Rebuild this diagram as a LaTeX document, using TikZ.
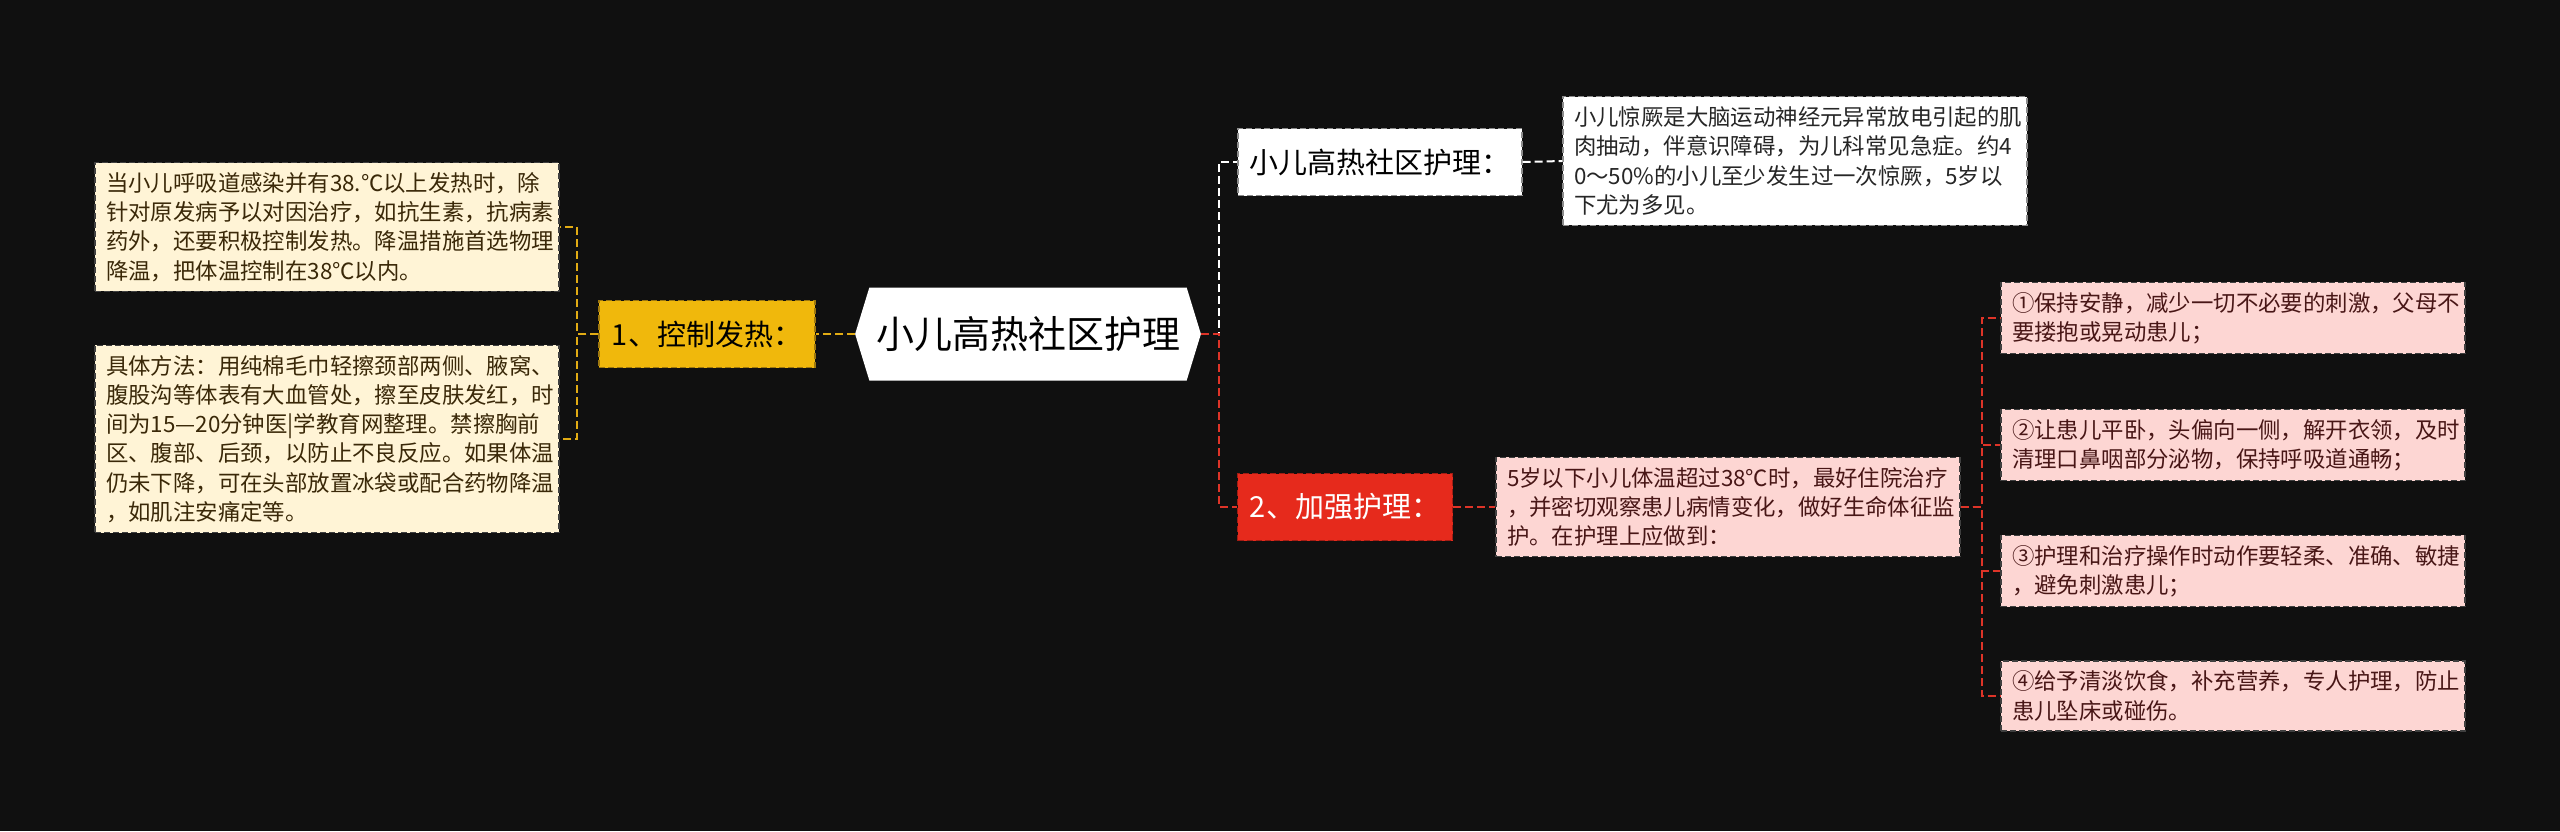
\documentclass[tikz,border=0pt]{standalone}
\usepackage{fontspec}
\setmainfont{Noto Sans CJK SC}
\usetikzlibrary{shapes}
\definecolor{bg}{RGB}{16,16,16}
\definecolor{hl_yellow}{RGB}{240,184,12}
\definecolor{hl_yline}{RGB}{226,172,20}
\definecolor{hl_cream}{RGB}{255,244,214}
\definecolor{hl_red}{RGB}{230,42,28}
\definecolor{hl_rline}{RGB}{222,52,40}
\definecolor{hl_pink}{RGB}{253,214,211}
\definecolor{txt_brown}{RGB}{58,40,8}
\definecolor{txt_maroon}{RGB}{72,22,22}
\tikzstyle{root}=[signal,signal to=west and east,signal pointer angle=146,
  fill=white,draw=none,minimum width=171pt,minimum height=46.5pt,
  font=\fontsize{19}{23}\selectfont]
\tikzstyle{topic}=[rectangle,line width=0.6pt,dash pattern=on 3pt off 1.5pt,
  minimum height=33.5pt,inner sep=3pt,font=\fontsize{14.5}{17}\selectfont]
\tikzstyle{note}=[rectangle,line width=0.6pt,dash pattern=on 3pt off 1.5pt,
  inner xsep=5.5pt,inner ysep=5pt,text width=221pt,align=left,
  font=\fontsize{11.2}{14.6}\selectfont]
\tikzstyle{yl}=[draw=hl_yline,line width=1pt,dash pattern=on 4pt off 2pt]
\tikzstyle{wl}=[draw=white,line width=1pt,dash pattern=on 4pt off 2pt]
\tikzstyle{rl}=[draw=hl_rline,line width=1pt,dash pattern=on 4pt off 2pt]

\begin{document}
\begin{tikzpicture}[x=0.5pt,y=-0.5pt]
    \fill[bg] (0,0) rectangle (2560,831);
    \useasboundingbox (0,0) rectangle (2560,831);
    % centre
    \node [style=root] (root) at (1028,334) {小儿高热社区护理};
    % left branch
    \node [style=topic,fill=hl_yellow,draw=hl_yline!70!black,minimum width=108pt] (c1) at (707,334) {1、控制发热：};
    \node [style=note,fill=hl_cream,draw=black!75,text=txt_brown] (t1) at (327,227) {当小儿呼吸道感染并有38.℃以上发热时，除\\针对原发病予以对因治疗，如抗生素，抗病素\\药外，还要积极控制发热。降温措施首选物理\\降温，把体温控制在38℃以内。};
    \node [style=note,fill=hl_cream,draw=black!75,text=txt_brown] (t2) at (327,439) {具体方法：用纯棉毛巾轻擦颈部两侧、腋窝、\\腹股沟等体表有大血管处，擦至皮肤发红，时\\间为15—20分钟医|学教育网整理。禁擦胸前\\区、腹部、后颈，以防止不良反应。如果体温\\仍未下降，可在头部放置冰袋或配合药物降温\\，如肌注安痛定等。};
    % right branch
    \node [style=topic,fill=white,draw=black!45,minimum width=142pt] (s1) at (1380,162) {小儿高热社区护理：};
    \node [style=note,fill=white,draw=black!45,text=black!85] (n1) at (1795,161) {小儿惊厥是大脑运动神经元异常放电引起的肌\\肉抽动，伴意识障碍，为儿科常见急症。约4\\0～50\%的小儿至少发生过一次惊厥，5岁以\\下尤为多见。};
    \node [style=topic,fill=hl_red,draw=hl_red!70!black,text=white,minimum width=107.5pt] (s2) at (1345,507) {2、加强护理：};
    \node [style=note,fill=hl_pink,draw=black!75,text=txt_maroon] (p) at (1728,507) {5岁以下小儿体温超过38℃时，最好住院治疗\\，并密切观察患儿病情变化，做好生命体征监\\护。在护理上应做到：};
    \node [style=note,fill=hl_pink,draw=black!75,text=txt_maroon] (r1) at (2233,318) {①保持安静，减少一切不必要的刺激，父母不\\要搂抱或晃动患儿；};
    \node [style=note,fill=hl_pink,draw=black!75,text=txt_maroon] (r2) at (2233,445) {②让患儿平卧，头偏向一侧，解开衣领，及时\\清理口鼻咽部分泌物，保持呼吸道通畅；};
    \node [style=note,fill=hl_pink,draw=black!75,text=txt_maroon] (r3) at (2233,571) {③护理和治疗操作时动作要轻柔、准确、敏捷\\，避免刺激患儿；};
    \node [style=note,fill=hl_pink,draw=black!75,text=txt_maroon] (r4) at (2233,696) {④给予清淡饮食，补充营养，专人护理，防止\\患儿坠床或碰伤。};
    % connectors
    \draw [style=yl] (root.west) -- (c1.east);
    \draw [style=yl] (c1.west) -- ++(-10.5pt,0) |- (t1.east);
    \draw [style=yl] (c1.west) -- ++(-10.5pt,0) |- (t2.east);
    \draw [style=wl] (root.east) -- ++(9pt,0) |- (s1.west);
    \draw [style=rl] (root.east) -- ++(9pt,0) |- (s2.west);
    \draw [style=wl] (s1.east) -- (n1.west);
    \draw [style=rl] (s2.east) -- (p.west);
    \draw [style=rl] (p.east) -- ++(10.5pt,0) |- (r1.west);
    \draw [style=rl] (p.east) -- ++(10.5pt,0) |- (r2.west);
    \draw [style=rl] (p.east) -- ++(10.5pt,0) |- (r3.west);
    \draw [style=rl] (p.east) -- ++(10.5pt,0) |- (r4.west);
\end{tikzpicture}
\end{document}
